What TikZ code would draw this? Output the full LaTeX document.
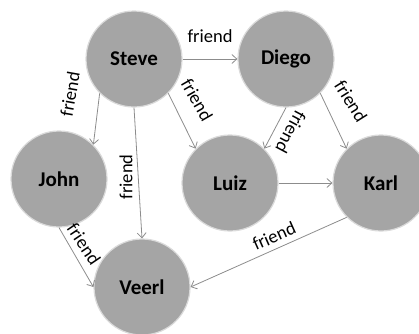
\documentclass[tikz,border=0pt]{standalone}
\usepackage{fontspec}
\setmainfont{Carlito}
\usetikzlibrary{arrows.meta}
\definecolor{nodefill}{HTML}{A5A5A5}
\definecolor{edgecol}{HTML}{8C8C8C}
\definecolor{rimcol}{HTML}{DADADA}
\begin{document}
\begin{tikzpicture}[x=1pt,y=-1pt,
  person/.style={circle, fill=nodefill, draw=rimcol, line width=1.2pt, minimum size=96pt, inner sep=0pt, font=\fontsize{21}{25}\selectfont\bfseries},
  rel/.style={draw=edgecol, line width=0.8pt, -{Straight Barb[length=5pt,width=9pt]}},
  lbl/.style={font=\fontsize{18.5}{22}\selectfont, inner sep=0pt}]
\useasboundingbox (0,0) rectangle (419,333);
\clip (0,0) rectangle (419,333);
\node[person] (steve) at (134,59) {Steve};
\node[person] (diego) at (286,59) {Diego};
\node[person] (john) at (59,179) {John};
\node[person] (luiz) at (230,183) {Luiz};
\node[person] (karl) at (381,183) {Karl};
\node[person] (veerl) at (142,287) {Veerl};
\draw[rel] (steve.east) -- (diego.west);
\draw[rel] (steve.south west) -- (john.north east);
\draw[rel] (steve.south) -- (veerl.north);
\draw[rel] (steve.south east) -- (luiz.north west);
\draw[rel] (diego.south) -- (luiz.north east);
\draw[rel] (diego.south east) -- (karl.north west);
\draw[rel] (luiz.east) -- (karl.west);
\draw[rel] (john.south) -- (veerl.west);
\draw[rel] (karl.south west) -- (veerl.east);
\node[lbl] (lsd) at (210,36) {friend};
\node[lbl, rotate=80] (lsj) at (70,94) {friend};
\node[lbl, rotate=90] (lsv) at (126,177) {friend};
\node[lbl, rotate=-60] (lsl) at (197,100) {friend};
\node[lbl, rotate=-118] (ldl) at (291,132) {friend};
\node[lbl, rotate=-58] (ldk) at (351,101) {friend};
\node[lbl, rotate=-56] (ljv) at (84,244) {friend};
\node[lbl, rotate=24] (lkv) at (274,236) {friend};
\end{tikzpicture}
\end{document}
